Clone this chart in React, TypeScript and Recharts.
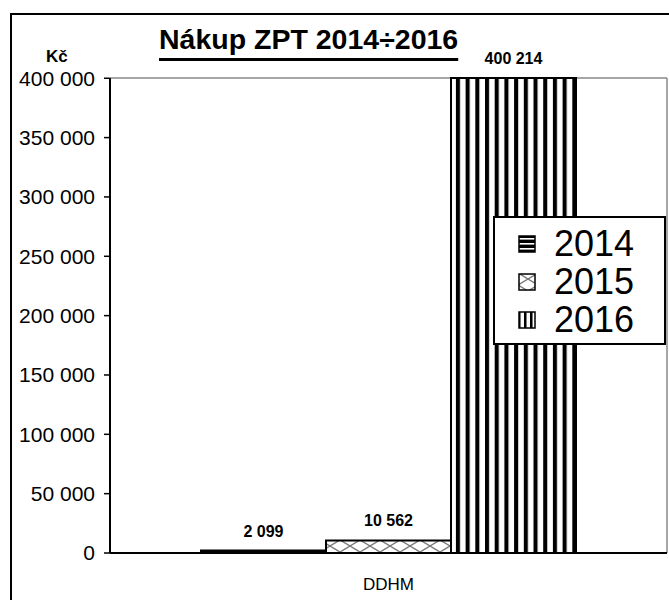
import { BarChart, Bar, XAxis, YAxis, LabelList, Legend, CartesianGrid } from "recharts";

const categories = ["DDHM"];
const years = ["2014", "2015", "2016"];
const values2014 = [2099];
const values2015 = [10562];
const values2016 = [400214];
const yTicks = [0, 50000, 100000, 150000, 200000, 250000, 300000, 350000, 400000];

const data = categories.map((name, i) => ({
  name,
  y2014: values2014[i],
  y2015: values2015[i],
  y2016: values2016[i],
}));

const FONT = "Arial, 'Liberation Sans', sans-serif";
const fmt = (v: number | string) => String(v).replace(/\B(?=(\d{3})+(?!\d))/g, " ");

function Patterns({ prefix, stripe2016 }: { prefix: string; stripe2016: number }) {
  return (
    <defs>
      <pattern id={`${prefix}2014`} patternUnits="userSpaceOnUse" width="8" height="5">
        <rect width="8" height="5" fill="#000" />
        <rect y="3" width="8" height="1.6" fill="#fff" />
      </pattern>
      <pattern id={`${prefix}2015`} patternUnits="userSpaceOnUse" width="20" height="12">
        <rect width="20" height="12" fill="#fff" />
        <path d="M0 0 L20 12 M20 0 L0 12" stroke="#777" strokeWidth="1.4" />
      </pattern>
      <pattern id={`${prefix}2016`} patternUnits="userSpaceOnUse" width={stripe2016} height="10">
        <rect width={stripe2016} height="10" fill="#fff" />
        <rect width={stripe2016 * 0.42} height="10" fill="#000" />
      </pattern>
    </defs>
  );
}

function LegendBox({ payload }: any) {
  const items = payload ?? [];
  return (
    <div
      style={{
        width: 173,
        height: 129,
        boxSizing: "border-box",
        border: "2px solid #000",
        background: "#fff",
        paddingTop: 7,
        fontFamily: FONT,
      }}
    >
      {items.map((entry: any, i: number) => (
        <div key={entry.value} style={{ display: "flex", alignItems: "center", height: 38 }}>
          <svg width={18} height={18} style={{ marginLeft: 23 }}>
            <Patterns prefix="leg" stripe2016={6} />
            <rect x={1} y={1} width={16} height={16} fill={`url(#leg${years[i]})`} stroke="#000" strokeWidth={1.5} />
          </svg>
          <span style={{ fontSize: 36, lineHeight: 1, marginLeft: 18, color: "#000" }}>{entry.value}</span>
        </div>
      ))}
    </div>
  );
}

const labelStyle = { fontSize: 16, fontWeight: "bold" as const, fill: "#000" };

export default function App() {
  return (
    <div
      style={{
        position: "absolute",
        left: 0,
        top: 0,
        width: 669,
        height: 600,
        overflow: "hidden",
        background: "#fff",
        fontFamily: FONT,
      }}
    >
      <div
        style={{
          position: "absolute",
          left: 10,
          top: 13,
          width: 700,
          height: 700,
          borderLeft: "2px solid #000",
          borderTop: "2px solid #000",
        }}
      />
      <BarChart
        width={669}
        height={600}
        data={data}
        margin={{ top: 78, right: 2, bottom: 0, left: 0 }}
        barCategoryGap={91}
        barGap={0}
      >
        <Patterns prefix="bar" stripe2016={9.7} />
        <CartesianGrid
          stroke="#888"
          strokeWidth={1.5}
          horizontalCoordinatesGenerator={({ offset }: any) => [offset.top]}
          verticalCoordinatesGenerator={({ offset }: any) => [offset.left + offset.width]}
        />
        <XAxis
          dataKey="name"
          axisLine={{ stroke: "#000", strokeWidth: 2 }}
          tickLine={false}
          tickSize={0}
          tickMargin={25}
          height={47}
          tick={{ fontSize: 17, fill: "#000" }}
        />
        <YAxis
          width={110}
          domain={[0, "dataMax"]}
          ticks={yTicks}
          interval={0}
          tickFormatter={fmt}
          axisLine={{ stroke: "#000", strokeWidth: 2 }}
          tickLine={{ stroke: "#000", strokeWidth: 1.5 }}
          tickSize={6}
          tickMargin={9}
          tick={{ fontSize: 21, fill: "#000" }}
        />
        <Legend
          layout="vertical"
          align="center"
          verticalAlign="middle"
          wrapperStyle={{ left: 493, top: 216, width: 173, height: 129 }}
          content={<LegendBox />}
        />
        <Bar dataKey="y2014" name={years[0]} fill="url(#bar2014)" stroke="#000" strokeWidth={2} isAnimationActive={false}>
          <LabelList dataKey="y2014" position="top" offset={14} formatter={fmt} style={labelStyle} fill="#000" />
        </Bar>
        <Bar dataKey="y2015" name={years[1]} fill="url(#bar2015)" stroke="#000" strokeWidth={2} isAnimationActive={false}>
          <LabelList dataKey="y2015" position="top" offset={14} formatter={fmt} style={labelStyle} fill="#000" />
        </Bar>
        <Bar dataKey="y2016" name={years[2]} fill="url(#bar2016)" stroke="#000" strokeWidth={2} isAnimationActive={false}>
          <LabelList dataKey="y2016" position="top" offset={14} formatter={fmt} style={labelStyle} fill="#000" />
        </Bar>
      </BarChart>
      <div
        style={{
          position: "absolute",
          left: 159,
          top: 25,
          fontSize: 28.5,
          lineHeight: 1,
          fontWeight: "bold",
          textDecoration: "underline",
          textDecorationThickness: 3,
          textUnderlineOffset: 9,
          whiteSpace: "nowrap",
        }}
      >
        Nákup ZPT 2014÷2016
      </div>
      <div
        style={{
          position: "absolute",
          left: 46,
          top: 48,
          fontSize: 17,
          lineHeight: 1,
          fontWeight: "bold",
        }}
      >
        Kč
      </div>
    </div>
  );
}
